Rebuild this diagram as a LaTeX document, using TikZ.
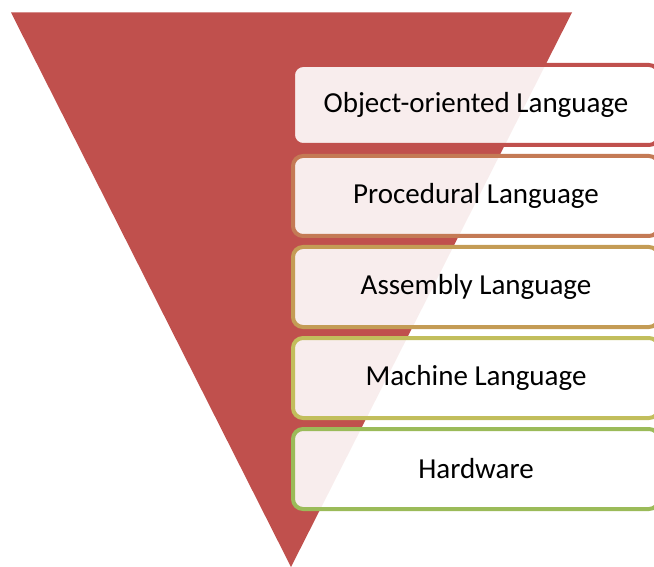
\documentclass[tikz,border=0pt]{standalone}
\usepackage{fontspec}
\setmainfont{Carlito}

\definecolor{funnelred}{HTML}{C0504D}
\definecolor{layerone}{HTML}{C0504D}
\definecolor{layertwo}{HTML}{C47A55}
\definecolor{layerthree}{HTML}{C49C55}
\definecolor{layerfour}{HTML}{C2BE5C}
\definecolor{layerfive}{HTML}{9BBB59}

\tikzset{
  layer/.style={draw=#1, line width=4pt, fill=white, fill opacity=0.9,
    text opacity=1, rounded corners=10pt, minimum width=366pt,
    minimum height=80pt, inner sep=0pt, font=\fontsize{29}{35}\selectfont}
}

\begin{document}
\begin{tikzpicture}[x=1pt,y=-1pt]

  \newcommand\Dy{91}

  \useasboundingbox (0,0) rectangle (654,567);

  % funnel
  \fill[funnelred]
  (11,12.5) coordinate (tl) -- (572,12.5) coordinate (tr) -- (291,567) coordinate (tip) -- cycle;

  \node[layer=layerone]   (oop)  at (476,105+0*\Dy) {Object-oriented Language};
  \node[layer=layertwo]   (proc) at (476,105+1*\Dy) {Procedural Language};
  \node[layer=layerthree] (asm)  at (476,105+2*\Dy) {Assembly Language};
  \node[layer=layerfour]  (mach) at (476,105+3*\Dy) {Machine Language};
  \node[layer=layerfive]  (hw)   at (476,105+4*\Dy) {Hardware};

\end{tikzpicture}
\end{document}
